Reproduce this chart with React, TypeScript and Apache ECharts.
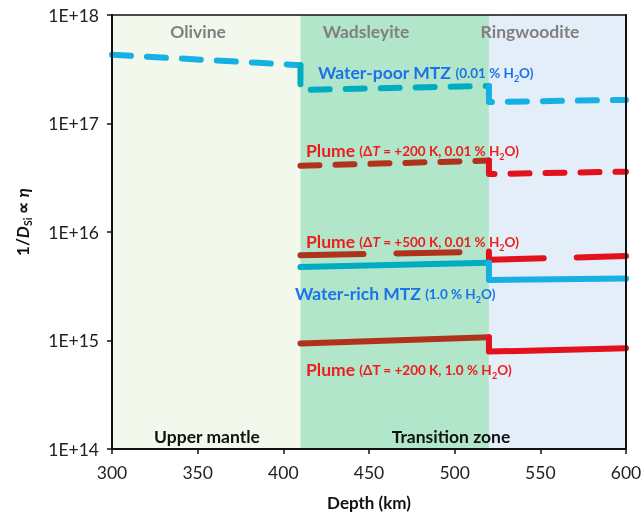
import React, { useEffect, useRef } from "react";
import * as echarts from "echarts";

const phaseBounds = [300, 410, 520, 600];
const phaseColors = ["#f2f8ec", "#b2e6ca", "#e4eef8"];

// Water-poor MTZ (0.01 % H2O)
const waterPoorOl = [[300, 4.3e17], [410, 3.45e17]];
const waterPoorWd = [[410, 3.45e17], [410, 2.04e17], [520, 2.22e17]];
const waterPoorRw = [[520, 2.22e17], [520, 1.58e17], [600, 1.65e17]];
// Plume dT=+200 K, 0.01 % H2O
const plume200DryWd = [[410, 4.08e16], [520, 4.55e16]];
const plume200DryRw = [[520, 4.55e16], [520, 3.42e16], [600, 3.6e16]];
// Plume dT=+500 K, 0.01 % H2O
const plume500DryWd = [[410, 6.1e15], [520, 6.6e15]];
const plume500DryRw = [[520, 6.6e15], [520, 5.55e15], [600, 6.0e15]];
// Water-rich MTZ (1.0 % H2O)
const waterRichWd = [[410, 4.75e15], [520, 5.2e15]];
const waterRichRw = [[520, 5.2e15], [520, 3.62e15], [600, 3.72e15]];
// Plume dT=+200 K, 1.0 % H2O
const plume200WetWd = [[410, 9.4e14], [520, 1.07e15]];
const plume200WetRw = [[520, 1.07e15], [520, 7.9e14], [600, 8.5e14]];

const FONT = "Lato";
const CYAN = "#16b1e2";
const TEAL = "#00adc0";
const RED = "#e3111e";
const DARKRED = "#b0321c";
const LBLUE = "#1a73e8";
const LRED = "#ee1c1c";

const SHORT = [19, 16];
const LONG = [63, 33];

function seg(data: number[][], color: string, dash: any) {
  return {
    type: "line",
    data,
    showSymbol: false,
    silent: true,
    z: 3,
    lineStyle: { color, width: 6, type: dash, cap: "round", join: "round" },
  };
}

const richBase = (color: string) => ({
  a: { fontFamily: FONT, fontWeight: "bold", fontSize: 17.5, fill: color, lineHeight: 22, verticalAlign: "bottom" },
  b: { fontFamily: FONT, fontWeight: "bold", fontSize: 13.5, fill: color, lineHeight: 22, verticalAlign: "bottom", padding: [0, 0, 1, 0] },
  i: { fontFamily: FONT, fontWeight: "bold", fontStyle: "italic", fontSize: 13.5, fill: color, lineHeight: 22, verticalAlign: "bottom", padding: [0, 0, 1, 0] },
  s: { fontFamily: FONT, fontWeight: "bold", fontSize: 9, fill: color, lineHeight: 22, verticalAlign: "bottom", padding: [0, 0, -2, 0] },
});

function label(x: number, y: number, text: string, color: string) {
  return {
    type: "text",
    x,
    y,
    z: 20,
    silent: true,
    style: { text, rich: richBase(color), textAlign: "left", textVerticalAlign: "middle" },
  };
}

function plain(x: number, y: number, text: string, color: string, size = 17.5) {
  return {
    type: "text",
    x,
    y,
    z: 20,
    silent: true,
    style: {
      text,
      fill: color,
      font: `bold ${size}px ${FONT}`,
      textAlign: "center",
      textVerticalAlign: "middle",
    },
  };
}

export default function App() {
  const ref = useRef<HTMLDivElement>(null);
  useEffect(() => {
    if (!ref.current) return;
    const chart = echarts.init(ref.current, undefined, { renderer: "svg" });
    const markData = phaseColors.map((c, k) => [
      { xAxis: phaseBounds[k], itemStyle: { color: c } },
      { xAxis: phaseBounds[k + 1] },
    ]);
    chart.setOption({
      animation: false,
      grid: { left: 112, right: 17, top: 15, bottom: 64, containLabel: false, outerBoundsMode: "none" },
      xAxis: [
        {
          type: "value",
          min: 300,
          max: 600,
          interval: 50,
          z: 10,
          axisLine: { lineStyle: { color: "#111", width: 2 } },
          axisTick: { show: true, length: 5, lineStyle: { color: "#111", width: 1.5 } },
          axisLabel: { fontFamily: FONT, fontSize: 17.5, color: "#222", margin: 14 },
          splitLine: { show: false },
          name: "Depth (km)",
          nameLocation: "middle",
          nameGap: 45,
          nameTextStyle: { fontFamily: FONT, fontWeight: "bold", fontSize: 17, color: "#111" },
        },
        {
          type: "value",
          position: "top",
          min: 300,
          max: 600,
          z: 10,
          axisLine: { show: true, onZero: false, lineStyle: { color: "#111", width: 1.5 } },
          axisTick: { show: false },
          axisLabel: { show: false },
          splitLine: { show: false },
        },
      ],
      yAxis: [
        {
          type: "log",
          logBase: 10,
          min: 1e14,
          max: 1e18,
          z: 10,
          axisLine: { show: true, lineStyle: { color: "#111", width: 2 } },
          axisTick: { show: true, length: 5, lineStyle: { color: "#111", width: 1.5 } },
          minorTick: { show: false },
          axisLabel: {
            fontFamily: FONT,
            fontSize: 17.5,
            color: "#222",
            margin: 13,
            formatter: (v: number) => "1E+" + Math.round(Math.log10(v)),
          },
          splitLine: { show: false },
        },
        {
          type: "log",
          logBase: 10,
          min: 1e14,
          max: 1e18,
          position: "right",
          z: 10,
          axisLine: { show: true, onZero: false, lineStyle: { color: "#111", width: 2 } },
          axisTick: { show: false },
          axisLabel: { show: false },
          splitLine: { show: false },
        },
      ],
      series: [
        {
          type: "line",
          data: [],
          silent: true,
          z: 1,
          markArea: { silent: true, data: markData },
        },
        seg(waterPoorOl, CYAN, SHORT),
        seg(waterPoorWd, TEAL, SHORT),
        seg(waterPoorRw, CYAN, SHORT),
        seg(plume200DryWd, DARKRED, SHORT),
        seg(plume200DryRw, RED, SHORT),
        seg(plume500DryWd, DARKRED, LONG),
        seg(plume500DryRw, RED, LONG),
        seg(waterRichWd, TEAL, "solid"),
        seg(waterRichRw, CYAN, "solid"),
        seg(plume200WetWd, DARKRED, "solid"),
        seg(plume200WetRw, RED, "solid"),
      ],
      graphic: [
        plain(198, 31, "Olivine", "#808080"),
        plain(366, 31, "Wadsleyite", "#808080"),
        plain(530, 31, "Ringwoodite", "#808080"),
        plain(207, 436, "Upper mantle", "#111"),
        plain(451, 436, "Transition zone", "#111"),
        label(318, 70, "{a|Water-poor MTZ }{b|(0.01 % H}{s|2}{b|O)}", LBLUE),
        label(306, 148, "{a|Plume }{b|(Δ}{i|T}{b| = +200 K, 0.01 % H}{s|2}{b|O)}", LRED),
        label(306, 239, "{a|Plume }{b|(Δ}{i|T}{b| = +500 K, 0.01 % H}{s|2}{b|O)}", LRED),
        label(295, 291, "{a|Water-rich MTZ }{b|(1.0 % H}{s|2}{b|O)}", LBLUE),
        label(306, 367, "{a|Plume }{b|(ΔT = +200 K, 1.0 % H}{s|2}{b|O)}", LRED),
        {
          type: "text",
          x: 20,
          y: 222,
          rotation: Math.PI / 2,
          z: 20,
          silent: true,
          style: {
            text: "{a|1/}{i|D}{s|Si}{a| ∝ }{i|η}",
            textAlign: "center",
            textVerticalAlign: "middle",
            rich: {
              a: { fontFamily: FONT, fontWeight: "bold", fontSize: 17, fill: "#111", lineHeight: 22, verticalAlign: "bottom" },
              i: { fontFamily: FONT, fontWeight: "bold", fontStyle: "italic", fontSize: 17, fill: "#111", lineHeight: 22, verticalAlign: "bottom" },
              s: { fontFamily: FONT, fontWeight: "bold", fontSize: 10.5, fill: "#111", lineHeight: 22, verticalAlign: "bottom", padding: [0, 0, -2, 0] },
            },
          },
        },
      ],
    });
    return () => chart.dispose();
  }, []);
  return (
    <div
      ref={ref}
      style={{ position: "fixed", left: 0, top: 0, width: 643, height: 513 }}
    />
  );
}
